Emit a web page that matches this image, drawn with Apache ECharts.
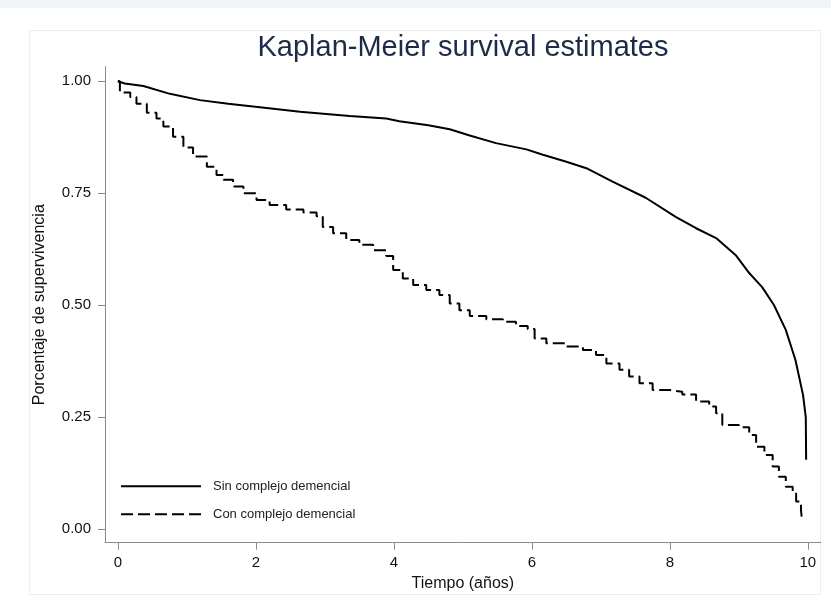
<!DOCTYPE html>
<html><head><meta charset="utf-8">
<script src="https://cdn.jsdelivr.net/npm/echarts@6/dist/echarts.min.js"></script>
<style>html,body{margin:0;padding:0;background:#fff}#c{width:831px;height:609px}</style>
</head><body><div id="c"></div>
<script>
const chartTitle = 'Kaplan-Meier survival estimates';
const xName = 'Tiempo (años)';
const yName = 'Porcentaje de supervivencia';
const xTicks = [0, 2, 4, 6, 8, 10];
const yTicks = [0, 0.25, 0.5, 0.75, 1];
const seriesNames = ['Sin complejo demencial', 'Con complejo demencial'];

// Sin complejo demencial (solid)
const sinT = [0, 0.1, 0.37, 0.755, 1.19, 1.6, 2.06, 2.64, 3.36, 3.89, 4.08, 4.5, 4.81, 5.10, 5.48, 5.92, 6.16, 6.5, 6.79, 7.17, 7.65, 8.09, 8.38, 8.67, 8.96, 9.15, 9.34, 9.51, 9.68, 9.82, 9.93, 9.97, 9.975];
const sinS = [1.0, 0.995, 0.9895, 0.972, 0.958, 0.950, 0.942, 0.932, 0.9225, 0.917, 0.911, 0.902, 0.893, 0.879, 0.862, 0.848, 0.836, 0.8205, 0.806, 0.776, 0.740, 0.697, 0.672, 0.650, 0.611, 0.572, 0.540, 0.500, 0.445, 0.378, 0.300, 0.250, 0.155];

// Con complejo demencial (dashed, step)
const conT = [0, 0.03, 0.18, 0.27, 0.42, 0.56, 0.66, 0.80, 0.95, 1.09, 1.29, 1.43, 1.53, 1.67, 1.82, 2.01, 2.20, 2.44, 2.69, 2.88, 2.97, 3.12, 3.31, 3.50, 3.70, 3.89, 3.99, 4.13, 4.28, 4.47, 4.66, 4.81, 4.95, 5.10, 5.34, 5.58, 5.77, 5.94, 6.04, 6.21, 6.50, 6.74, 6.93, 7.08, 7.27, 7.41, 7.56, 7.75, 7.99, 8.18, 8.38, 8.57, 8.67, 8.76, 9.00, 9.15, 9.25, 9.37, 9.49, 9.58, 9.68, 9.78, 9.83, 9.90, 9.91];
const conS = [1.0, 0.975, 0.965, 0.950, 0.930, 0.917, 0.899, 0.876, 0.852, 0.832, 0.809, 0.791, 0.780, 0.765, 0.750, 0.735, 0.724, 0.714, 0.707, 0.699, 0.675, 0.661, 0.646, 0.635, 0.623, 0.610, 0.579, 0.560, 0.545, 0.534, 0.523, 0.504, 0.489, 0.476, 0.469, 0.463, 0.454, 0.447, 0.426, 0.415, 0.408, 0.400, 0.389, 0.370, 0.356, 0.341, 0.326, 0.311, 0.307, 0.301, 0.285, 0.274, 0.259, 0.233, 0.228, 0.2105, 0.184, 0.166, 0.140, 0.117, 0.095, 0.080, 0.062, 0.043, 0.028];

const FONT = 'Liberation Sans, Arial, sans-serif';
const axisGray = '#8a8a8a';
const chart = echarts.init(document.getElementById('c'), null, {renderer: 'canvas'});
chart.setOption({
  animation: false,
  backgroundColor: '#ffffff',
  graphic: [
    {type: 'rect', shape: {x: 0, y: 0, width: 831, height: 8}, style: {fill: '#f1f4f6'}, silent: true, z: -10},
    {type: 'rect', shape: {x: 29.5, y: 30.5, width: 791, height: 564}, style: {fill: 'none', stroke: '#e9eff2', lineWidth: 1}, silent: true, z: -10}
  ],
  title: {
    text: chartTitle,
    left: 458, top: 28, textAlign: 'center',
    textStyle: {fontFamily: FONT, fontSize: 29, fontWeight: 'normal', color: '#1e2b48'}
  },
  legend: {
    orient: 'vertical', left: 115, top: 474.7,
    itemWidth: 80, itemHeight: 14, itemGap: 15,
    itemStyle: {opacity: 0},
    textStyle: {fontFamily: FONT, fontSize: 13, color: '#222', padding: [0, 0, 0, 7]},
    data: seriesNames
  },
  grid: {left: 105, right: 10.3, top: 66.7, bottom: 66.3, containLabel: false},
  xAxis: {
    type: 'value', min: -0.186, max: 10.186,
    name: xName, nameLocation: 'middle', nameGap: 31,
    nameTextStyle: {fontFamily: FONT, fontSize: 16, color: '#111'},
    axisLine: {show: true, onZero: false, lineStyle: {color: axisGray, width: 1}},
    axisTick: {show: true, length: 7, customValues: xTicks, lineStyle: {color: axisGray}},
    axisLabel: {customValues: xTicks, fontFamily: FONT, fontSize: 15, color: '#111', margin: 13, formatter: v => String(v)},
    splitLine: {show: false}
  },
  yAxis: {
    type: 'value', min: -0.03, max: 1.0326,
    name: yName, nameLocation: 'middle', nameGap: 57, nameRotate: 90,
    nameTextStyle: {fontFamily: FONT, fontSize: 16, color: '#111'},
    axisLine: {show: true, onZero: false, lineStyle: {color: axisGray, width: 1}},
    axisTick: {show: true, length: 7, customValues: yTicks, lineStyle: {color: axisGray}},
    axisLabel: {customValues: yTicks, fontFamily: FONT, fontSize: 15, color: '#111', margin: 14, formatter: v => v.toFixed(2)},
    splitLine: {show: false}
  },
  series: [
    {
      name: seriesNames[0], type: 'line', symbol: 'none', smooth: false,
      data: sinT.map((t, i) => [t, sinS[i]]),
      lineStyle: {color: '#000', width: 2, type: 'solid'},
      itemStyle: {color: '#000'}
    },
    {
      name: seriesNames[1], type: 'line', symbol: 'none', step: 'end',
      data: conT.map((t, i) => [t, conS[i]]),
      lineStyle: {color: '#000', width: 2, type: [12, 5]},
      itemStyle: {color: '#000'}
    }
  ]
});
</script></body></html>
